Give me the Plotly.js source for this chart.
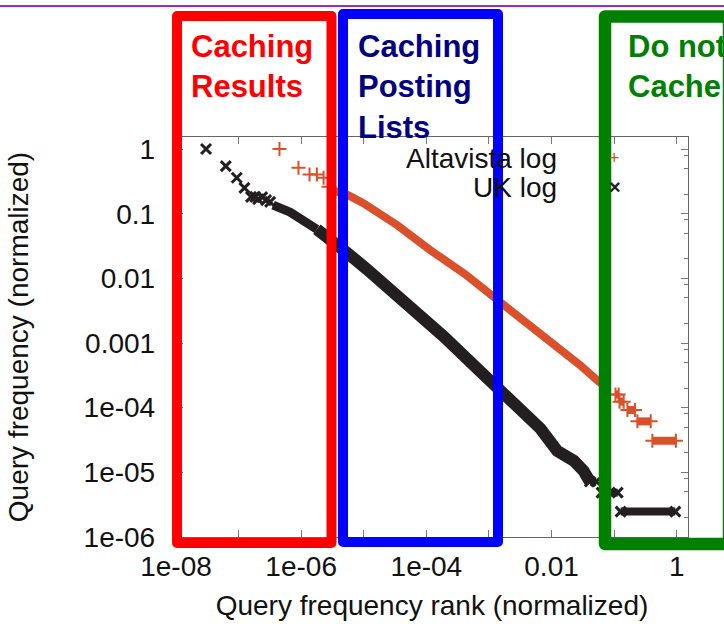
<!DOCTYPE html>
<html>
<head>
<meta charset="utf-8">
<script src="https://cdn.plot.ly/plotly-3.0.1.min.js"></script>
<style>
  html, body { margin: 0; padding: 0; background: #fff; }
  #chart { width: 724px; height: 624px; }
  .shapelayer path { stroke-linejoin: round; }
</style>
</head>
<body>
<div id="chart"></div>
<script>
// ---- Data (normalized rank, normalized frequency) ----
// Altavista log
const altaHeadRank = [4.5e-7, 9.06e-7, 1.36e-6, 1.78e-6, 2.28e-6, 2.73e-6];
const altaHeadFreq = [1.0, 0.513, 0.405, 0.405, 0.36, 0.26];
const altaBandRank = [3.13e-6, 5.65e-6, 9.82e-6, 3.44e-5, 1.16e-4, 4.21e-4, 1.53e-3, 5.15e-3, 8.63e-3, 0.0291, 0.0545, 0.0759];
const altaBandFreq = [0.231, 0.1936, 0.1455, 0.0663, 0.0272, 0.01153, 4.25e-3, 1.68e-3, 1.22e-3, 4.48e-4, 2.62e-4, 2.04e-4];
const altaStepStart = [0.105, 0.122, 0.163, 0.235, 0.408];
const altaStepEnd   = [0.118, 0.142, 0.215, 0.384, 0.97];
const altaStepFreq  = [1.6e-4, 1.24e-4, 9.2e-5, 6.14e-5, 3.08e-5];

// UK log
const ukHeadRank = [3.02e-8, 6.24e-8, 9.35e-8, 1.24e-7, 1.58e-7, 1.84e-7, 2.05e-7, 2.38e-7, 2.75e-7, 3.19e-7];
const ukHeadFreq = [1.0, 0.545, 0.359, 0.251, 0.182, 0.182, 0.168, 0.18, 0.162, 0.152];
const ukBandRank = [3.56e-7, 6.67e-7, 1.78e-6, 3.72e-6, 6.08e-6, 1.125e-5, 1.84e-5, 6.27e-5, 1.89e-4, 7.31e-4, 2.49e-3, 6.67e-3, 0.01233, 0.02275, 0.0325, 0.041];
const ukBandFreq = [0.1355, 0.1055, 0.0575, 0.0345, 0.0227, 0.0138, 9.3e-3, 3.3e-3, 1.26e-3, 3.61e-4, 1.24e-4, 4.72e-5, 2.15e-5, 1.51e-5, 1.05e-5, 7.2e-6];
const ukStepStart = [0.041, 0.063, 0.127];
const ukStepEnd   = [0.052, 0.114, 0.95];
const ukStepFreq  = [7.2e-6, 4.85e-6, 2.47e-6];

// Axis ticks
const xTickVals = [1e-8, 1e-7, 1e-6, 1e-5, 1e-4, 1e-3, 1e-2, 1e-1, 1];
const xTickText = ['1e-08', '', '1e-06', '', '1e-04', '', '0.01', '', '1'];
const yTickVals = [1e-6, 1e-5, 1e-4, 1e-3, 1e-2, 1e-1, 1];
const yTickText = ['1e-06', '1e-05', '1e-04', '0.001', '0.01', '0.1', '1'];
const yMinorVals = [2e-6,5e-6,8e-6,2e-5,5e-5,8e-5,2e-4,5e-4,8e-4,2e-3,5e-3,8e-3,2e-2,5e-2,8e-2,0.2,0.5,0.8];

const seriesNames = ['Altavista log', 'UK log'];
const boxLabels = ['Caching<br>Results', 'Caching<br>Posting<br>Lists', 'Do not<br>Cache'];

// ---- Styles ----
const ORANGE = '#d9502b';
const BLACK = '#231f20';
const FONT = 'Liberation Sans, Arial, Helvetica, sans-serif';

function stepsXY(starts, ends, freqs) {
  const x = [], y = [];
  for (let i = 0; i < starts.length; i++) {
    x.push(starts[i], ends[i], null);
    y.push(freqs[i], freqs[i], null);
  }
  return {x, y};
}
const altaSteps = stepsXY(altaStepStart, altaStepEnd, altaStepFreq);
const ukSteps = stepsXY(ukStepStart, ukStepEnd, ukStepFreq);

const xMark = {symbol: 'x-thin-open', size: 10, color: BLACK, line: {color: BLACK, width: 3}};
const plusMark = {symbol: 'cross-thin-open', size: 10, color: ORANGE, line: {color: ORANGE, width: 2}};

const traces = [
  // UK log: thin start of the dense band, then the thick part
  {x: ukBandRank.slice(0, 3), y: ukBandFreq.slice(0, 3), mode: 'lines', line: {color: BLACK, width: 9}, showlegend: false, hoverinfo: 'skip'},
  {x: ukBandRank.slice(2), y: ukBandFreq.slice(2), mode: 'lines', line: {color: BLACK, width: 12}, showlegend: false, hoverinfo: 'skip'},
  {x: ukSteps.x, y: ukSteps.y, mode: 'lines+markers', line: {color: BLACK, width: 8}, connectgaps: false,
   marker: xMark, showlegend: false, hoverinfo: 'skip'},
  {x: ukHeadRank, y: ukHeadFreq, mode: 'markers', name: seriesNames[1], marker: xMark, showlegend: false},
  // Altavista log
  {x: altaBandRank, y: altaBandFreq, mode: 'lines', line: {color: ORANGE, width: 8}, showlegend: false, hoverinfo: 'skip'},
  {x: altaSteps.x, y: altaSteps.y, mode: 'lines+markers', line: {color: ORANGE, width: 8}, connectgaps: false,
   marker: plusMark, showlegend: false, hoverinfo: 'skip'},
  {x: altaHeadRank, y: altaHeadFreq, mode: 'markers', name: seriesNames[0], marker: plusMark, showlegend: false}
];

function box(x0, x1, y0, y1, color, w) {
  return {type: 'rect', xref: 'paper', yref: 'paper', x0: x0, x1: x1, y0: y0, y1: y1,
          line: {color: color, width: w}, fillcolor: 'rgba(0,0,0,0)', layer: 'above'};
}

const TXT = '#111';
const layout = {
  width: 724, height: 624,
  margin: {l: 176, r: 36, t: 137, b: 87, pad: 0},
  paper_bgcolor: '#ffffff', plot_bgcolor: '#ffffff',
  font: {family: FONT, size: 28, color: TXT},
  showlegend: false,
  xaxis: {
    type: 'log', range: [-8, 0.18],
    tickmode: 'array', tickvals: xTickVals, ticktext: xTickText,
    ticks: 'inside', ticklen: 7, tickcolor: '#777', tickwidth: 1,
    showline: true, linecolor: '#666', linewidth: 1.2, mirror: 'allticks',
    showgrid: false, zeroline: false,
    tickfont: {family: FONT, size: 28, color: TXT},
    ticklabelstandoff: 4,
    title: {text: 'Query frequency rank (normalized)', font: {family: FONT, size: 28, color: TXT}, standoff: 14}
  },
  yaxis: {
    type: 'log', range: [-6, 0.186],
    tickmode: 'array', tickvals: yTickVals, ticktext: yTickText,
    ticks: 'inside', ticklen: 7, tickcolor: '#777', tickwidth: 1,
    minor: {tickmode: 'array', tickvals: yMinorVals, ticks: 'inside', ticklen: 4, tickcolor: '#777', showgrid: false},
    showline: true, linecolor: '#666', linewidth: 1.2, mirror: 'allticks',
    showgrid: false, zeroline: false,
    tickfont: {family: FONT, size: 28, color: TXT},
    ticklabelstandoff: 14,
    title: {text: 'Query frequency (normalized)', font: {family: FONT, size: 28, color: TXT}, standoff: 46}
  },
  shapes: [
    {type: 'line', xref: 'paper', yref: 'paper', x0: -0.35, x1: 1.08, y0: 1.3275, y1: 1.3275,
     line: {color: '#a02ac0', width: 2}, layer: 'above'},
    box(0.002, 0.3037, -0.015, 1.3025, '#ff0000', 10),
    box(0.3262, 0.6289, -0.0125, 1.3075, '#0000ff', 10),
    box(0.8379, 1.0801, -0.0175, 1.3012, '#008000', 12.5)
  ],
  annotations: [
    {xref: 'paper', yref: 'paper', x: 0.0253, y: 1.275, xanchor: 'left', yanchor: 'top', align: 'left',
     text: '<b>' + boxLabels[0] + '</b>', showarrow: false, font: {family: FONT, size: 31, color: '#ff0000'}},
    {xref: 'paper', yref: 'paper', x: 0.3515, y: 1.275, xanchor: 'left', yanchor: 'top', align: 'left',
     text: '<b>' + boxLabels[1] + '</b>', showarrow: false, font: {family: FONT, size: 31, color: '#000080'}},
    {xref: 'paper', yref: 'paper', x: 0.879, y: 1.275, xanchor: 'left', yanchor: 'top', align: 'left',
     text: '<b>' + boxLabels[2] + '</b>', showarrow: false, font: {family: FONT, size: 31, color: '#008000'}},
    {xref: 'paper', yref: 'paper', x: 0.748, y: 0.9475, xanchor: 'right', yanchor: 'middle',
     text: seriesNames[0], showarrow: false, font: {family: FONT, size: 28, color: TXT}},
    {xref: 'paper', yref: 'paper', x: 0.748, y: 0.875, xanchor: 'right', yanchor: 'middle',
     text: seriesNames[1], showarrow: false, font: {family: FONT, size: 28, color: TXT}},
    {xref: 'paper', yref: 'paper', x: 0.8574, y: 0.9475, xanchor: 'center', yanchor: 'middle',
     text: '+', showarrow: false, font: {family: FONT, size: 18, color: ORANGE}},
    {xref: 'paper', yref: 'paper', x: 0.8574, y: 0.875, xanchor: 'center', yanchor: 'middle',
     text: '<b>×</b>', showarrow: false, font: {family: FONT, size: 20, color: BLACK}}
  ]
};

Plotly.newPlot('chart', traces, layout, {displayModeBar: false, staticPlot: true});
</script>
</body>
</html>
